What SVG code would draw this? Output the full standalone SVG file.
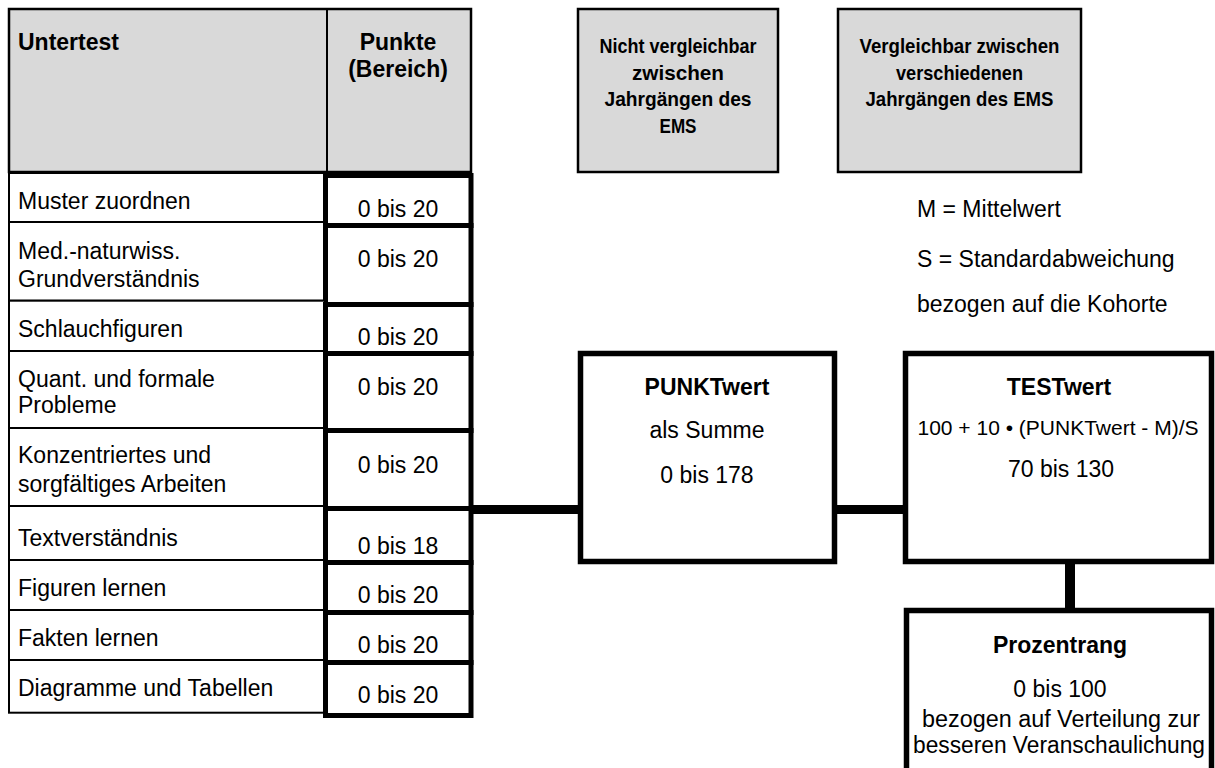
<svg xmlns="http://www.w3.org/2000/svg" width="1215" height="768" viewBox="0 0 1215 768">
<style>
text{font-family:"Liberation Sans",Arial,sans-serif;font-size:23px;fill:#000}
.b{font-weight:bold}
.c{text-anchor:middle}
.h2{font-size:21px}
.f{font-size:21px}
.hdr{fill:#d9d9d9;stroke:#000;stroke-width:2.5}
.cell{fill:#fff;stroke:#000;stroke-width:2}
.pts{fill:none;stroke:#000;stroke-width:5}
.box{fill:#fff;stroke:#000;stroke-width:5.5}
.conn{stroke:#000;fill:none}
</style>
<rect x="0" y="0" width="1215" height="768" fill="#fff"/>

<g id="header-table">
<rect class="hdr" x="9" y="9" width="462" height="163"/>
<line x1="327" y1="9" x2="327" y2="172" stroke="#000" stroke-width="2"/>
<text class="b" x="18" y="50">Untertest</text>
<text class="b c" x="398" y="50">Punkte</text>
<text class="b c" x="398" y="77">(Bereich)</text>
</g>

<g id="header-nicht">
<rect class="hdr" x="578" y="9" width="200" height="163"/>
<text class="b c h2" x="678" y="53" textLength="157" lengthAdjust="spacingAndGlyphs">Nicht vergleichbar</text>
<text class="b c h2" x="678" y="80" textLength="92" lengthAdjust="spacingAndGlyphs">zwischen</text>
<text class="b c h2" x="678" y="106" textLength="147" lengthAdjust="spacingAndGlyphs">Jahrgängen des</text>
<text class="b c h2" x="678" y="133" textLength="37" lengthAdjust="spacingAndGlyphs">EMS</text>
</g>

<g id="header-vergleichbar">
<rect class="hdr" x="838" y="9" width="243" height="163"/>
<text class="b c h2" x="959.5" y="53" textLength="200" lengthAdjust="spacingAndGlyphs">Vergleichbar zwischen</text>
<text class="b c h2" x="959.5" y="80" textLength="127" lengthAdjust="spacingAndGlyphs">verschiedenen</text>
<text class="b c h2" x="959.5" y="106" textLength="188" lengthAdjust="spacingAndGlyphs">Jahrgängen des EMS</text>
</g>

<g id="row-muster">
<rect class="cell" x="9" y="173" width="316" height="49"/>
<rect class="pts" x="325.5" y="175.5" width="145.5" height="50"/>
<text x="18" y="209">Muster zuordnen</text>
<text class="c" x="398" y="217">0 bis 20</text>
</g>
<g id="row-med">
<rect class="cell" x="9" y="222" width="316" height="78.7"/>
<rect class="pts" x="325.5" y="225.5" width="145.5" height="79"/>
<text x="18" y="259">Med.-naturwiss.</text>
<text x="18" y="287">Grundverständnis</text>
<text class="c" x="398" y="267">0 bis 20</text>
</g>
<g id="row-schlauch">
<rect class="cell" x="9" y="300.7" width="316" height="50.3"/>
<rect class="pts" x="325.5" y="304.5" width="145.5" height="49"/>
<text x="18" y="337">Schlauchfiguren</text>
<text class="c" x="398" y="345">0 bis 20</text>
</g>
<g id="row-quant">
<rect class="cell" x="9" y="351" width="316" height="77"/>
<rect class="pts" x="325.5" y="353.5" width="145.5" height="77"/>
<text x="18" y="387">Quant. und formale</text>
<text x="18" y="413">Probleme</text>
<text class="c" x="398" y="395">0 bis 20</text>
</g>
<g id="row-konz">
<rect class="cell" x="9" y="428" width="316" height="78"/>
<rect class="pts" x="325.5" y="430.5" width="145.5" height="78"/>
<text x="18" y="463">Konzentriertes und</text>
<text x="18" y="492">sorgfältiges Arbeiten</text>
<text class="c" x="398" y="473">0 bis 20</text>
</g>
<g id="row-text">
<rect class="cell" x="9" y="506" width="316" height="54"/>
<rect class="pts" x="325.5" y="508.5" width="145.5" height="54"/>
<text x="18" y="546">Textverständnis</text>
<text class="c" x="398" y="554">0 bis 18</text>
</g>
<g id="row-figuren">
<rect class="cell" x="9" y="560" width="316" height="50"/>
<rect class="pts" x="325.5" y="562.5" width="145.5" height="50"/>
<text x="18" y="596">Figuren lernen</text>
<text class="c" x="398" y="603">0 bis 20</text>
</g>
<g id="row-fakten">
<rect class="cell" x="9" y="610" width="316" height="50"/>
<rect class="pts" x="325.5" y="612.5" width="145.5" height="50"/>
<text x="18" y="646">Fakten lernen</text>
<text class="c" x="398" y="653">0 bis 20</text>
</g>
<g id="row-diagramme">
<rect class="cell" x="9" y="660" width="316" height="52.7"/>
<rect class="pts" x="325.5" y="662.5" width="145.5" height="53"/>
<text x="18" y="696">Diagramme und Tabellen</text>
<text class="c" x="398" y="703">0 bis 20</text>
</g>

<g id="legend">
<text x="917" y="217">M = Mittelwert</text>
<text x="917" y="267">S = Standardabweichung</text>
<text x="917" y="312">bezogen auf die Kohorte</text>
</g>

<g id="connectors">
<line class="conn" x1="471" y1="509.5" x2="581" y2="509.5" stroke-width="9"/>
<line class="conn" x1="834" y1="509.5" x2="906" y2="509.5" stroke-width="9"/>
<line class="conn" x1="1070" y1="561" x2="1070" y2="611" stroke-width="10"/>
</g>

<g id="punktwert">
<rect class="box" x="580.5" y="353.5" width="254" height="208"/>
<text class="b c" x="707" y="395">PUNKTwert</text>
<text class="c" x="707" y="438">als Summe</text>
<text class="c" x="707" y="483">0 bis 178</text>
</g>

<g id="testwert">
<rect class="box" x="905.5" y="353.5" width="306" height="208"/>
<text class="b c" x="1059" y="395">TESTwert</text>
<text class="c f" x="1058" y="435">100 + 10 • (PUNKTwert - M)/S</text>
<text class="c" x="1061" y="477">70 bis 130</text>
</g>

<g id="prozentrang">
<rect class="box" x="906.5" y="610.5" width="305" height="200"/>
<text class="b c" x="1060" y="653">Prozentrang</text>
<text class="c" x="1060" y="697">0 bis 100</text>
<text class="c" x="1061" y="727" textLength="278" lengthAdjust="spacingAndGlyphs">bezogen auf Verteilung zur</text>
<text class="c" x="1059" y="753" textLength="292" lengthAdjust="spacingAndGlyphs">besseren Veranschaulichung</text>
</g>
</svg>
